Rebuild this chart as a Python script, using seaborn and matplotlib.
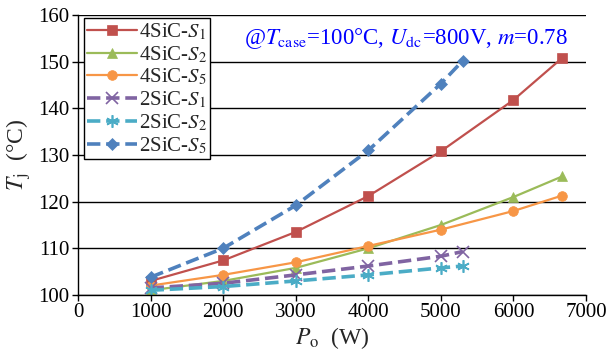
import matplotlib
matplotlib.use("Agg")
import matplotlib.pyplot as plt
import seaborn as sns
import pandas as pd

sns.set_theme(style="white")
plt.rcParams['font.family'] = ['Liberation Serif', 'DejaVu Serif']
plt.rcParams['mathtext.fontset'] = 'stix'

x4 = [1000, 2000, 3000, 4000, 5000, 6000, 6670]
y4_s1 = [103.0, 107.4, 113.5, 121.2, 130.8, 141.8, 150.8]
y4_s2 = [101.0, 103.0, 105.8, 110.0, 115.0, 121.0, 125.4]
y4_s5 = [102.0, 104.3, 107.0, 110.5, 114.0, 118.0, 121.3]
x2 = [1000, 2000, 3000, 4000, 5000, 5300]
y2_s1 = [101.5, 102.5, 104.3, 106.2, 108.3, 109.3]
y2_s2 = [101.0, 101.8, 103.0, 104.3, 105.8, 106.2]
y2_s5 = [103.8, 110.0, 119.2, 131.0, 145.3, 150.2]

labels = ["4SiC-$S_1$", "4SiC-$S_2$", "4SiC-$S_5$", "2SiC-$S_1$", "2SiC-$S_2$", "2SiC-$S_5$"]
xs = [x4, x4, x4, x2, x2, x2]
ys = [y4_s1, y4_s2, y4_s5, y2_s1, y2_s2, y2_s5]
colors = ["#C0504D", "#9BBB59", "#F79646", "#8064A2", "#4BACC6", "#4F81BD"]
markers = ["s", "^", "o", "x", (6, 2, 0), "D"]
msizes = [7, 7, 7, 8, 9, 6]
styles = ["-", "-", "-", "--", "--", "--"]
lws = [1.6, 1.6, 1.6, 2.6, 2.6, 2.6]

fig = plt.figure(figsize=(6.12, 3.61), dpi=100)
ax = fig.add_axes([0.1275, 0.183, 0.83, 0.775])

for xv, yv, lab, c, m, ms, ls, lw in zip(xs, ys, labels, colors, markers, msizes, styles, lws):
    df = pd.DataFrame({"x": xv, "y": yv})
    sns.lineplot(data=df, x="x", y="y", ax=ax, color=c, marker=m, markersize=ms,
                 linestyle=ls, linewidth=lw, label=lab, markeredgecolor=c,
                 markeredgewidth=1.2 if m in ("x", (6, 2, 0)) else 0.5)

ax.set_xlim(0, 7000)
ax.set_ylim(100, 160)
ax.set_xticks(range(0, 7001, 1000))
ax.set_yticks(range(100, 161, 10))
ax.tick_params(axis='both', labelsize=15, direction='out', length=4, width=1,
               colors='black', bottom=True, left=True, pad=2)
ax.yaxis.grid(True, color='black', linewidth=1)
ax.set_axisbelow(True)
for s in ["top", "right"]:
    ax.spines[s].set_visible(False)
for s in ["left", "bottom"]:
    ax.spines[s].set_color('black')
    ax.spines[s].set_linewidth(1)

ax.set_xlabel("$P_{\\rm o}$  (W)", fontsize=17, labelpad=2)
ax.set_ylabel("$T_{\\rm j}$  (°C)", fontsize=17, labelpad=4)

ax.text(0.645, 0.915, "@$T_{\\rm case}$=100°C, $U_{\\rm dc}$=800V, $m$=0.78",
        transform=ax.transAxes, ha='center', va='center', color='#0000FF', fontsize=16.5)

leg = ax.legend(loc='upper left', bbox_to_anchor=(0.005, 1.0), fontsize=15, frameon=True,
                fancybox=False, edgecolor='black', framealpha=1, handlelength=2.4,
                handletextpad=0.1, labelspacing=0.1, borderpad=0.15, borderaxespad=0.15)
leg.get_frame().set_linewidth(1)

fig.savefig("out.png", dpi=100)
